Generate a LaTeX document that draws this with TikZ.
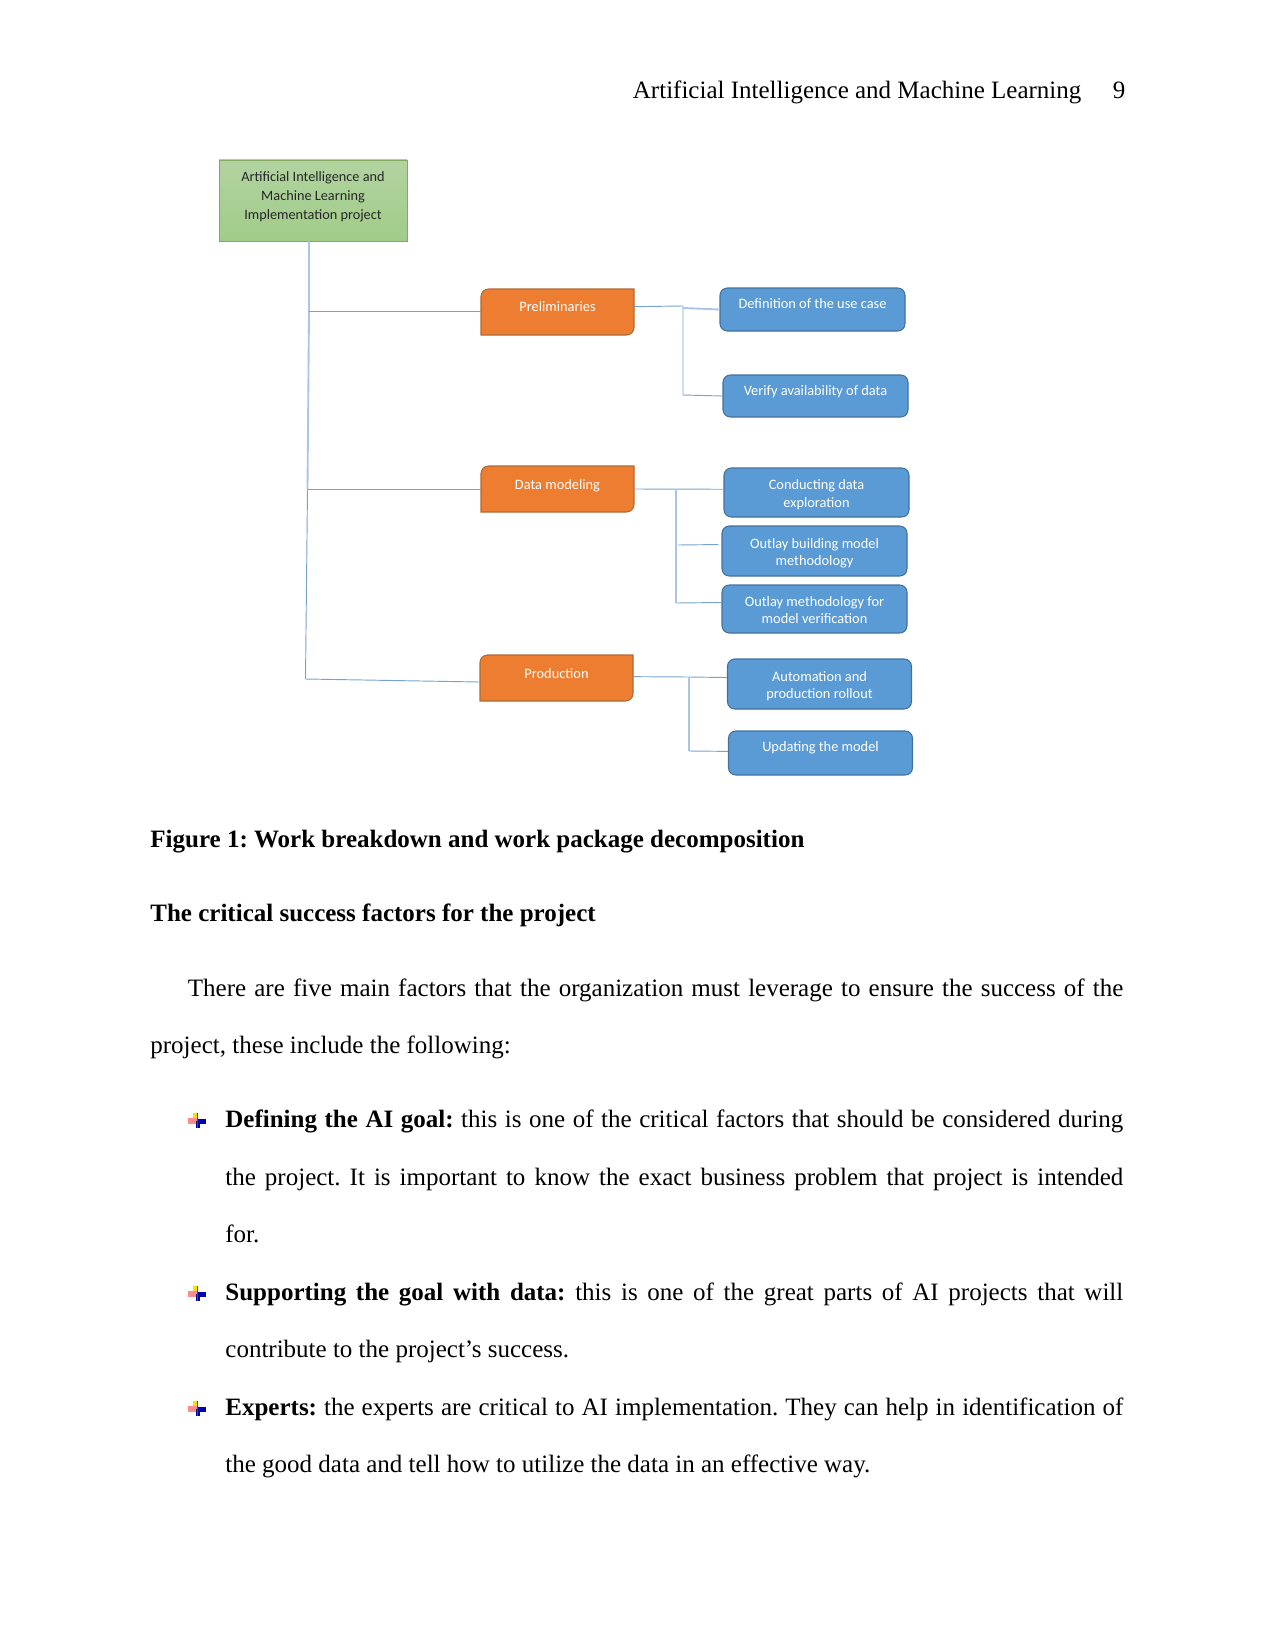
\documentclass[tikz,border=0pt]{standalone}
\usetikzlibrary{backgrounds}
\usepackage{fontspec}
\setmainfont{Liberation Serif}
\newfontfamily\boxfont{Carlito}
\usepackage{xcolor}
\definecolor{leafblue}{HTML}{5B9BD5}
\definecolor{leafedge}{HTML}{41719C}
\definecolor{phaseorange}{HTML}{ED7D31}
\definecolor{phaseedge}{HTML}{AE6A35}
\definecolor{rootedge}{HTML}{85A95F}
\definecolor{roottop}{HTML}{B2D3A0}
\definecolor{rootbottom}{HTML}{A0CC88}
\definecolor{wirecol}{HTML}{76A3D0}
\definecolor{palewire}{HTML}{A9C7E4}
\newcommand{\fillto}[2]{\makebox[#1pt][s]{#2}}
\frenchspacing
\begin{document}
\begin{tikzpicture}[x=.48pt,y=-.48pt,
    boxsize/.style 2 args={minimum width=#1*.48pt,minimum height=#2*.48pt},
    rootbox/.style={draw=rootedge,line width=.4pt,top color=roottop,bottom color=rootbottom,inner sep=0pt,align=center,font=\boxfont\fontsize{6.85}{9.1}\selectfont,text=black!85,text height=18.2pt,text depth=0pt},
    leafbox/.style={draw=leafedge,fill=leafblue,line width=.5pt,rounded corners=3.5pt,inner sep=0pt,align=center,text=white,font=\boxfont\fontsize{6.9}{8.3}\selectfont},
    phasebox/.style={inner sep=0pt,outer sep=0pt,align=center,text=white,font=\boxfont\fontsize{6.9}{8.2}\selectfont},
    lifted/.style={text height=7pt,text depth=#1},
    twolines/.style={text height=14pt,text depth=0pt},
    wire/.style={draw=wirecol,line width=.45pt},
    softwire/.style={draw=palewire,line width=.9pt},
    bodyline/.style={anchor=base west,inner sep=0pt,font=\fontsize{12}{14}\selectfont},
    bulletmark/.pic={
        \fill[yellow!80!orange] (-4,-8) rectangle (0,0);
        \fill[red!45!white] (-9,-3) rectangle (0,3);
        \fill[blue!70!black] (0,-2) rectangle (9,3);
        \fill[blue!60!black] (-1,0) rectangle (3,7);
        \fill[black!70] (.2,-8) rectangle (1.4,7);
    }]
    \useasboundingbox (0,0) rectangle (1275,1651);

    % running head
    \node[bodyline] (headtitle) at (632.5,99) {Artificial Intelligence and Machine Learning};
    \node[bodyline] (headpage) at (1112.5,99) {9};

    % breakdown tree
    \node[rootbox,boxsize={188}{81}] (root) at (313,200.5) {Artificial Intelligence and\\Machine Learning\\Implementation project};

    \node[phasebox,boxsize={153}{46},lifted=7.3pt] (prelim) at (557.5,312) {Preliminaries};
    \node[phasebox,boxsize={153}{46},lifted=6.3pt] (datamod) at (557.5,489) {Data modeling};
    \node[phasebox,boxsize={153}{46},lifted=6.3pt] (production) at (556.5,678) {Production};

    % orange boxes: only two opposite corners are round
    \begin{scope}[on background layer]
        \foreach \p in {prelim,datamod,production} {
            \draw[fill=phaseorange,draw=phaseedge,line width=.5pt]
                (\p.south west)
                -- ([yshift=-3.6pt]\p.north west)
                .. controls ([yshift=-1.6pt]\p.north west) and ([xshift=1.6pt]\p.north west) .. ([xshift=3.6pt]\p.north west)
                -- (\p.north east)
                -- ([yshift=3.6pt]\p.south east)
                .. controls ([yshift=1.6pt]\p.south east) and ([xshift=-1.6pt]\p.south east) .. ([xshift=-3.6pt]\p.south east)
                -- cycle;
        }
    \end{scope}

    \node[leafbox,boxsize={185}{43},lifted=8.3pt] (usecase) at (812.5,309.5) {Definition of the use case};
    \node[leafbox,boxsize={185}{42},lifted=7.3pt] (verify) at (815.5,396) {Verify availability of data};
    \node[leafbox,boxsize={185}{49},twolines] (explore) at (816.5,492.5) {Conducting data\\exploration};
    \node[leafbox,boxsize={185}{50},twolines] (outbuild) at (814.5,551) {Outlay building model\\methodology};
    \node[leafbox,boxsize={185}{48},twolines] (outverify) at (814.5,609) {Outlay methodology for\\model verification};
    \node[leafbox,boxsize={184}{50},twolines] (rollout) at (819.5,684) {Automation and\\production rollout};
    \node[leafbox,boxsize={184}{44},lifted=8.3pt] (update) at (820.5,753) {Updating the model};

    \coordinate (trunkp) at (309,311);
    \coordinate (trunkd) at (307.5,489);
    \coordinate (trunkb) at (305.5,679);
    \coordinate (forkp) at (683,306);
    \coordinate (forkpin) at (683,308);
    \coordinate (forkplow) at (683,395);
    \coordinate (forkd) at (676,489);
    \coordinate (forkdlow) at (676,603);
    \coordinate (stubd) at (678,545);
    \coordinate (forkb) at (689,677);
    \coordinate (forkblow) at (689,751);

    \draw[softwire] (root.south -| trunkp) -- (trunkp) -- (trunkd);
    \draw[wire] (trunkd) -- (trunkb) -- (production.183);
    \draw[wire] (trunkp) -- (prelim.west |- trunkp);
    \draw[wire] (trunkd) -- (datamod.west);

    \draw[wire] (prelim.4.5) -- (forkp) -- (forkplow) -- (verify.west);
    \draw[softwire] (forkpin) -- (usecase.west);

    \draw[wire] (datamod.east) -- (explore.178);
    \draw[softwire] (forkd) -- (forkdlow);
    \draw[wire] (forkdlow) -- (outverify.176.3);
    \draw[wire,shorten >=1.5pt] (stubd) -- (outbuild.176.3);

    \draw[wire] (production.1) -- (forkb) -- (rollout.176);
    \draw[softwire] (forkb) -- (forkblow);
    \draw[wire] (forkblow) -- (update.179);

    % caption and text
    \node[bodyline] (caption) at (150,847) {\textbf{Figure 1: Work breakdown and work package decomposition}};
    \node[bodyline] (heading) at (150,921) {\textbf{The critical success factors for the project}};

    \node[bodyline] (para1) at (187.5,996) {\fillto{449}{There are five main factors that the organization must leverage to ensure the success of the}};
    \node[bodyline] (para2) at (150,1053) {project, these include the following:};

    \pic at (197,1121) {bulletmark};
    \node[bodyline] (goala) at (225,1127) {\fillto{431}{\textbf{Defining the AI goal:} this is one of the critical factors that should be considered during}};
    \node[bodyline] (goalb) at (225,1185.5) {\fillto{431}{the project. It is important to know the exact business problem that project is intended}};
    \node[bodyline] (goalc) at (225,1242) {for.};

    \pic at (197,1294) {bulletmark};
    \node[bodyline] (dataa) at (225,1300) {\fillto{431}{\textbf{Supporting the goal with data:} this is one of the great parts of AI projects that will}};
    \node[bodyline] (datab) at (225,1357) {contribute to the project’s success.};

    \pic at (197,1409) {bulletmark};
    \node[bodyline] (expa) at (225,1415) {\fillto{431}{\textbf{Experts:} the experts are critical to AI implementation. They can help in identification of}};
    \node[bodyline] (expb) at (225,1472) {the good data and tell how to utilize the data in an effective way.};
\end{tikzpicture}
\end{document}
